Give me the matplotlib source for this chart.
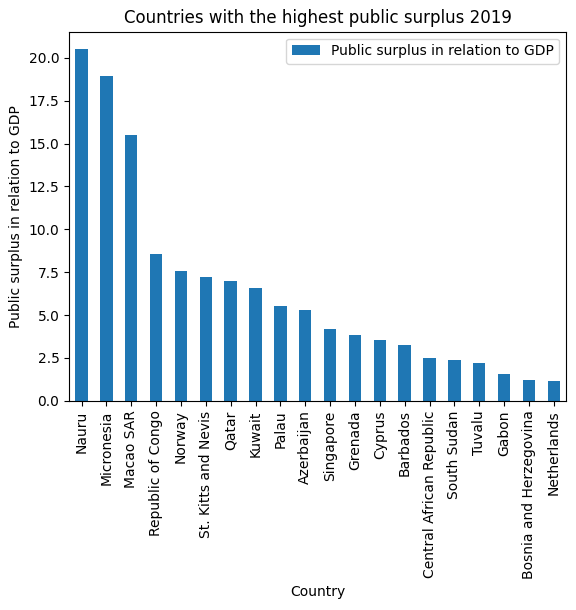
import matplotlib
matplotlib.use("Agg")
import matplotlib.pyplot as plt
import pandas as pd

countries = ["Nauru", "Micronesia", "Macao SAR", "Republic of Congo", "Norway",
             "St. Kitts and Nevis", "Qatar", "Kuwait", "Palau", "Azerbaijan",
             "Singapore", "Grenada", "Cyprus", "Barbados", "Central African Republic",
             "South Sudan", "Tuvalu", "Gabon", "Bosnia and Herzegovina", "Netherlands"]
values = [20.5, 18.95, 15.5, 8.55, 7.55, 7.2, 6.96, 6.6, 5.5, 5.27,
          4.2, 3.82, 3.57, 3.28, 2.52, 2.4, 2.22, 1.58, 1.23, 1.17]

df = pd.DataFrame({"Country": countries, "Public surplus in relation to GDP": values})
fig = plt.figure(figsize=(5.76, 6.1), dpi=100)
ax = fig.add_axes([0.12, 0.343, 0.863, 0.605])
df.plot.bar(x="Country", y="Public surplus in relation to GDP", ax=ax)
ax.set_title("Countries with the highest public surplus 2019")
ax.set_ylabel("Public surplus in relation to GDP")
ax.set_xlabel("Country")
fig.savefig("out.png", dpi=100)
